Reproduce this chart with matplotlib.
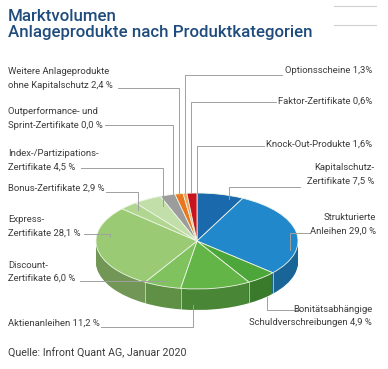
import numpy as np
import matplotlib
matplotlib.use("Agg")
import matplotlib.pyplot as plt
from matplotlib.transforms import Affine2D
from matplotlib.colors import to_rgb

# data, clockwise from 12 o'clock
categories = ["Kapitalschutz-\nZertifikate 7,5 %",
              "Strukturierte\nAnleihen 29,0 %",
              "Bonitätsabhängige\nSchuldverschreibungen 4,9 %",
              "Aktienanleihen 11,2 %",
              "Discount-\nZertifikate 6,0 %",
              "Express-\nZertifikate 28,1 %",
              "Bonus-Zertifikate 2,9 %",
              "Index-/Partizipations-\nZertifikate 4,5 %",
              "Outperformance- und\nSprint-Zertifikate 0,0 %",
              "Weitere Anlageprodukte\nohne Kapitalschutz 2,4 %",
              "Optionsscheine 1,3%",
              "Faktor-Zertifikate 0,6%",
              "Knock-Out-Produkte 1,6%"]
values = [7.5, 29.0, 4.9, 11.2, 6.0, 28.1, 2.9, 4.5, 0.0, 2.4, 1.3, 0.6, 1.6]
colors = ["#1a69ad", "#2288cc", "#4da63a", "#63b548", "#80c25e", "#9acb74",
          "#b0d690", "#c3dfa9", "#bbbbbb", "#9c9c9c", "#e8771f", "#f2a45a", "#c8141e"]

# layout (image pixel coords, y down)
W, H = 388, 369
cx, cy = 197, 241
R, ry, depth = 101, 48, 21
# label: x, baseline of last line, ha ; leader: list of points
label_pos = [(374, 184, "right"), (376, 234, "right"), (372, 325, "right"),
             (8, 326, "left"), (8, 281, "left"), (8, 236, "left"),
             (8, 191, "left"), (8, 170, "left"), (8, 128, "left"),
             (8, 88, "left"), (372, 73, "right"), (372, 104, "right"),
             (372, 147, "right")]
leaders = [[(300, 187), (229, 187), (229, 199)],
           [(309, 233), (290, 233), (290, 250)],
           [(300, 310), (267, 310), (267, 297)],
           [(101, 327), (193, 327), (193, 305)],
           [(80, 281), (167, 281), (167, 278)],
           [(84, 234), (110, 234), (110, 236)],
           [(106, 192), (138, 192), (138, 210)],
           [(81, 168), (163, 168), (163, 206)],
           [(105, 125), (173, 125), (173, 195)],
           [(118, 88), (179, 88), (179, 195)],
           [(282, 75), (185, 75), (185, 193)],
           [(276, 102), (191, 102), (191, 193)],
           [(264, 146), (197, 146), (197, 193)]]

plt.rcParams['font.family'] = ['Liberation Sans Narrow', 'Roboto', 'DejaVu Sans']

fig = plt.figure(figsize=(W / 100, H / 100), dpi=100)
ax = fig.add_axes([0, 0, 1, 1])


def iy(y):
    # image y -> data y
    return H - y


def darker(c, f):
    r, g, b = to_rgb(c)
    return (r * f, g * f, b * f)


k = ry / R
pcx, pcy = cx, iy(cy)

# side wall: stack of darker pies, then the top face
for d in range(depth, 0, -1):
    wedges, _ = ax.pie(values, colors=[darker(c, 0.74) for c in colors],
                       startangle=90, counterclock=False, radius=R,
                       center=(pcx, pcy), wedgeprops=dict(linewidth=0))
    tr = Affine2D().translate(-pcx, -pcy).scale(1, k).translate(pcx, pcy - d) + ax.transData
    for w in wedges:
        w.set_transform(tr)
        w.set_zorder(1)

wedges, _ = ax.pie(values, colors=colors, startangle=90, counterclock=False,
                   radius=R, center=(pcx, pcy),
                   wedgeprops=dict(linewidth=0.6, edgecolor="#eef5e6"))
tr = Affine2D().translate(-pcx, -pcy).scale(1, k).translate(pcx, pcy) + ax.transData
for w in wedges:
    w.set_transform(tr)
    w.set_zorder(2)

# light seams on the wall at slice borders facing front
ang = np.deg2rad(360 * np.cumsum(values) / sum(values))
for a in ang:
    if np.cos(a) < -0.05:
        x = pcx + R * np.sin(a)
        y = pcy + R * k * np.cos(a)
        ax.plot([x, x], [y, y - depth], color="#d9ecc8", lw=0.6, alpha=0.8, zorder=3)

# labels and leader lines
for lab, (x, yb, ha), pts in zip(categories, label_pos, leaders):
    lines = lab.split("\n")
    for i, line in enumerate(reversed(lines)):
        ax.text(x, iy(yb - 13.5 * i), line, ha=ha, va="baseline",
                fontsize=6.8, color="#3c3c3c", zorder=5)
    px = [p[0] for p in pts]
    py = [iy(p[1]) for p in pts]
    ax.plot(px, py, color="#a0a0a0", lw=0.7, zorder=4)

# title, source, decoration
ax.text(8, iy(21), "Marktvolumen", fontsize=12.2, color="#1f4c7c",
        fontfamily=["Roboto", "DejaVu Sans"], fontweight="medium", va="baseline")
ax.text(8, iy(37), "Anlageprodukte nach Produktkategorien", fontsize=12.2,
        color="#1f4c7c", fontfamily=["Roboto", "DejaVu Sans"],
        fontweight="medium", va="baseline")
ax.text(8, iy(356), "Quelle: Infront Quant AG, Januar 2020", fontsize=7.7,
        color="#3c3c3c", va="baseline")
ax.plot([334, 376], [iy(6), iy(6)], color="#d0d0d0", lw=0.8)
ax.plot([334, 376], [iy(25), iy(25)], color="#d0d0d0", lw=0.8)

ax.set_xlim(0, W)
ax.set_ylim(0, H)
ax.set_aspect("auto")
ax.axis("off")

fig.savefig("out.png", dpi=100)
